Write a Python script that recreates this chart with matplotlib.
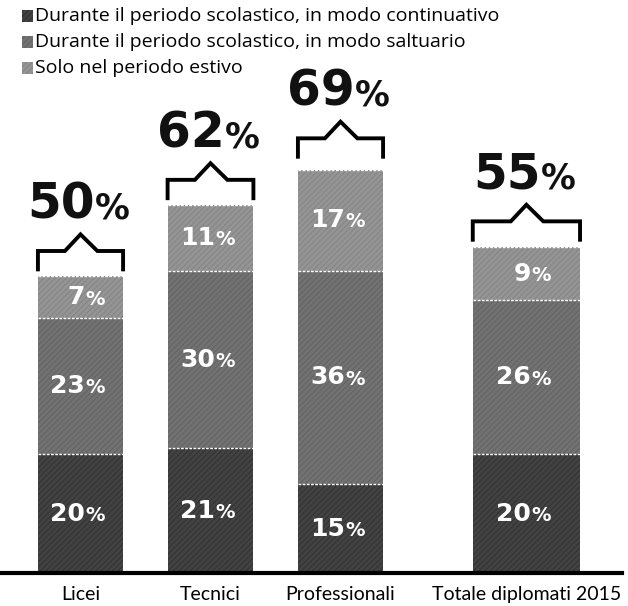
import matplotlib
matplotlib.use('Agg')
from matplotlib import pyplot as plt
from matplotlib.patches import Rectangle
import numpy as np

# data
categories = ['Licei', 'Tecnici', 'Professionali', 'Totale diplomati 2015']
continuativo = [20, 21, 15, 20]
saltuario = [23, 30, 36, 26]
estivo = [7, 11, 17, 9]
totals = [50, 62, 69, 55]
series_names = ['Durante il periodo scolastico, in modo continuativo',
                'Durante il periodo scolastico, in modo saltuario',
                'Solo nel periodo estivo']

# layout
pos = np.array([0, 1, 2, 3.43])
widths = np.array([0.655, 0.66, 0.655, 0.825])
colors = ['#424242', '#727272', '#949494']
hatch_colors = ['#2c2c2c', '#5c5c5c', '#7e7e7e']

plt.rcParams['hatch.linewidth'] = 0.5

fig = plt.figure(figsize=(6.28, 6.06), dpi=100)
ax = fig.add_axes([0, 0, 1, 1])
ax.set_xlim(-80.5 / 130, (628 - 80.5) / 130)
ax.set_ylim(-33 / 5.93, 573 / 5.93)
ax.axis('off')

bottom = np.zeros(len(categories))
for vals, c, hc in zip([continuativo, saltuario, estivo], colors, hatch_colors):
    vals = np.array(vals)
    ax.bar(pos, vals, widths, bottom=bottom, color=c, edgecolor=hc,
           hatch='//////', linewidth=0)
    for x, v, b in zip(pos, vals, bottom):
        ax.text(x + 0.035, b + v / 2, str(v), ha='right', va='center',
                color='white', fontsize=18, fontweight='bold', family='DejaVu Sans')
        ax.text(x + 0.035, b + v / 2 - 0.3, '%', ha='left', va='center',
                color='white', fontsize=14, fontweight='bold', family='DejaVu Sans')
    bottom = bottom + vals
    # white separators between segments
    ax.hlines(bottom, pos - widths / 2, pos + widths / 2, colors='white',
              linewidth=1, linestyles=(0, (2, 1)))

# baseline
ax.axhline(0, xmin=0, xmax=622 / 628, color='black', linewidth=3)

# brackets and totals
for x, w, t in zip(pos, widths, totals):
    xl, xr = x - w / 2, x + w / 2
    bx = [xl, xl, x - 0.12, x, x + 0.13, xr, xr]
    by = [t + 1.2, t + 4.3, t + 4.3, t + 7.1, t + 4.3, t + 4.3, t + 1.2]
    ax.plot(bx, by, color='black', linewidth=2.8, solid_joinstyle='miter')
    ax.text(x + 0.11, t + 9.8, str(t), ha='right', va='baseline',
            fontsize=35, fontweight='bold', family='DejaVu Sans', color='#111111')
    ax.text(x + 0.11, t + 9.8, '%', ha='left', va='baseline',
            fontsize=25, fontweight='bold', family='DejaVu Sans', color='#111111')

# category labels
for x, lab in zip(pos, categories):
    ax.text(x, -2.2, lab, ha='center', va='top', fontsize=14, family='Lato')

# legend
for i, (name, c, hc) in enumerate(zip(series_names, colors, hatch_colors)):
    yc = 16 + 26 * i
    ax.add_patch(Rectangle((22 / 628, 1 - (yc + 5.5) / 606), 11 / 628, 11 / 606,
                           transform=ax.transAxes, facecolor=c, edgecolor=hc,
                           hatch='//////', linewidth=0))
    ax.text(35 / 628, 1 - yc / 606, name, transform=ax.transAxes,
            ha='left', va='center', fontsize=14, family='Open Sans')

plt.savefig('out.png', dpi=100)
